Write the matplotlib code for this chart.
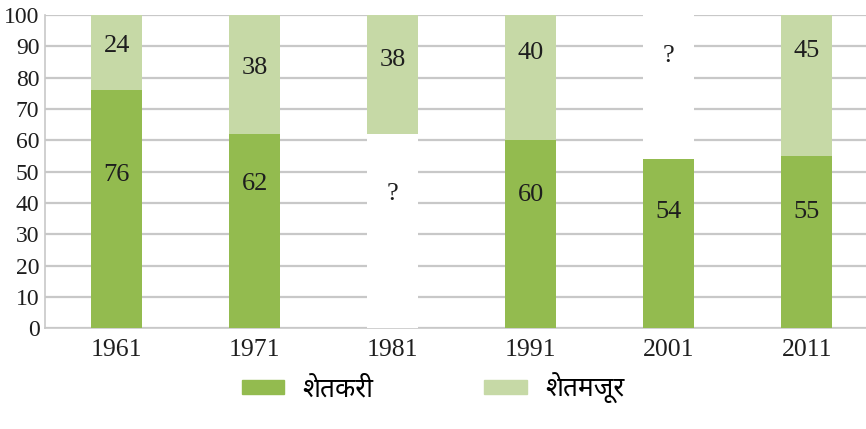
import matplotlib
matplotlib.use("Agg")
import matplotlib.pyplot as plt
from matplotlib import font_manager
from matplotlib.patches import Patch
import numpy as np

years = ["1961", "1971", "1981", "1991", "2001", "2011"]
farmers = [76, 62, None, 60, 54, 55]        # शेतकरी (None = unknown, shown as ?)
labourers = [24, 38, 38, 40, None, 45]      # शेतमजूर
legend_labels = ["शेतकरी", "शेतमजूर"]

# where the value labels sit inside each bar (data units)
farmer_label_y = [49, 46, 43, 42.5, 37, 37]
labourer_label_y = [90, 83, 85.5, 88, 87, 88.5]

dark_green = "#93bb4f"
light_green = "#c6d9a6"

# find a font that has Devanagari glyphs
deva_font = None
for name in ["Noto Sans Devanagari", "Mukta", "Hind", "Martel Sans"]:
    try:
        path = font_manager.findfont(font_manager.FontProperties(family=name), fallback_to_default=False)
        deva_font = font_manager.FontProperties(fname=path, size=19)
        break
    except Exception:
        continue
if deva_font is None:
    deva_font = font_manager.FontProperties(family="DejaVu Sans", size=16)

plt.rcParams["font.family"] = ["Liberation Serif", "DejaVu Serif"]

fig = plt.figure(figsize=(8.66, 4.29), dpi=100)
ax = fig.add_axes([0.052, 0.235, 0.948, 0.73])

x = np.arange(len(years))
width = 0.37

# total of both parts is always 100
bottoms = [f if f is not None else 100 - l for f, l in zip(farmers, labourers)]
tops = [l if l is not None else 100 - f for f, l in zip(farmers, labourers)]
bot_colors = [dark_green if f is not None else "white" for f in farmers]
top_colors = [light_green if l is not None else "white" for l in labourers]

ax.bar(x, bottoms, width, color=bot_colors, zorder=3)
ax.bar(x, tops, width, bottom=bottoms, color=top_colors, zorder=3)

for i in range(len(years)):
    ft = "?" if farmers[i] is None else str(farmers[i])
    lt = "?" if labourers[i] is None else str(labourers[i])
    ax.text(x[i], farmer_label_y[i], ft, ha="center", va="center", fontsize=19, color="#1e1e1e", zorder=4)
    ax.text(x[i], labourer_label_y[i], lt, ha="center", va="center", fontsize=19, color="#1e1e1e", zorder=4)

ax.set_xlim(-0.52, 5.43)
ax.set_ylim(0, 100)
ax.set_yticks(np.arange(0, 101, 10))
ax.set_xticks(x)
ax.set_xticklabels(years)
ax.tick_params(axis="y", labelsize=17, length=0, pad=4, labelcolor="#1e1e1e")
ax.tick_params(axis="x", labelsize=18.5, length=0, pad=8, labelcolor="#1e1e1e")
ax.yaxis.grid(True, color="#c8c8c8", linewidth=1.6, zorder=0)
ax.set_axisbelow(True)
for s in ["top", "right"]:
    ax.spines[s].set_visible(False)
ax.spines["left"].set_color("#c8c8c8")
ax.spines["bottom"].set_color("#c8c8c8")
ax.spines["left"].set_linewidth(1.2)
ax.spines["bottom"].set_linewidth(1.2)

handles = [Patch(color=dark_green), Patch(color=light_green)]
fig.legend(handles, legend_labels, loc="center", bbox_to_anchor=(0.5, 0.095), ncol=2,
           frameon=False, prop=deva_font, handlelength=1.6, handleheight=0.45,
           columnspacing=4.2, handletextpad=0.7)

fig.savefig("out.png", dpi=100)
